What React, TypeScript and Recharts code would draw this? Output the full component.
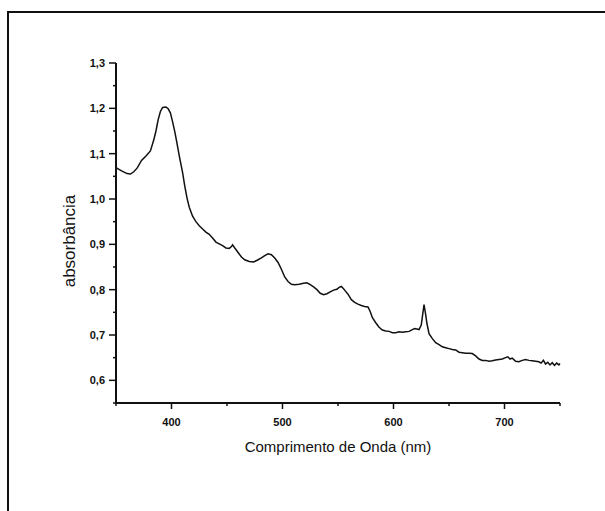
// Absorbance spectrum (UV-Vis)
import { LineChart, Line, XAxis, YAxis } from "recharts";

const wavelength = [
  350, 355, 360, 363, 366, 369, 373, 377, 381, 384, 386, 388, 390, 392, 395, 397, 399, 401, 403, 405,
  407, 410, 412, 414, 416, 419, 422, 425, 428, 431, 434, 437, 440, 443, 446, 449, 452, 454, 455, 457,
  460, 463, 466, 470, 474, 478, 481, 484, 487, 490, 493, 496, 499, 502, 505, 508, 511, 515, 519, 522,
  525, 528, 531, 534, 537, 540, 543, 546, 549, 551, 553, 555, 556, 559, 562, 565, 568, 571, 574, 577,
  579, 581, 584, 587, 590, 593, 596, 599, 602, 605, 608, 611, 614, 617, 619, 621, 623, 625, 626, 627.5,
  629, 630, 632, 635, 638, 641, 644, 647, 650, 653, 656, 659, 662, 665, 668, 671, 674, 677, 680, 683,
  686, 689, 692, 695, 698, 701, 703, 705, 707, 710, 713, 716, 719, 722, 725, 728, 731, 733, 735, 737,
  739, 741, 743, 745, 747, 749, 750,
];

const absorbance = [
  1.069, 1.062, 1.056, 1.055, 1.06, 1.068, 1.085, 1.095, 1.106, 1.13, 1.15, 1.175, 1.193, 1.202, 1.203, 1.199, 1.19, 1.17, 1.148, 1.122,
  1.095, 1.058, 1.028, 1.002, 0.982, 0.962, 0.95, 0.941, 0.934, 0.927, 0.922, 0.914, 0.905, 0.901, 0.897, 0.892, 0.891, 0.895, 0.899, 0.892,
  0.882, 0.872, 0.866, 0.862, 0.861, 0.866, 0.87, 0.875, 0.879, 0.877, 0.87, 0.86, 0.845, 0.828, 0.818, 0.812, 0.811, 0.812, 0.814, 0.815,
  0.811, 0.806, 0.8, 0.792, 0.789, 0.791, 0.795, 0.799, 0.801, 0.805, 0.807, 0.802, 0.799, 0.79, 0.778, 0.772, 0.768, 0.765, 0.763, 0.762,
  0.752, 0.738, 0.727, 0.717, 0.711, 0.709, 0.708, 0.705, 0.705, 0.707, 0.706, 0.707, 0.708, 0.712, 0.714, 0.713, 0.712, 0.722, 0.74, 0.767,
  0.745, 0.727, 0.703, 0.692, 0.683, 0.679, 0.674, 0.672, 0.67, 0.668, 0.667, 0.662, 0.661, 0.66, 0.66, 0.659, 0.654, 0.647, 0.644, 0.644,
  0.642, 0.643, 0.645, 0.646, 0.647, 0.65, 0.652, 0.647, 0.649, 0.642, 0.641, 0.644, 0.646, 0.644, 0.643, 0.642, 0.641, 0.638, 0.644, 0.636,
  0.64, 0.634, 0.639, 0.633, 0.638, 0.634, 0.637,
];

const xTicks = [350, 400, 450, 500, 550, 600, 650, 700, 750];
const xLabeled = [400, 500, 600, 700];
const yTicks = [0.55, 0.6, 0.65, 0.7, 0.75, 0.8, 0.85, 0.9, 0.95, 1.0, 1.05, 1.1, 1.15, 1.2, 1.25, 1.3];
const yLabeled = [0.6, 0.7, 0.8, 0.9, 1.0, 1.1, 1.2, 1.3];

const data = wavelength.map((w, i) => ({ w, a: absorbance[i] }));

const FONT = "'Liberation Sans', Arial, sans-serif";

const isIn = (list: number[], v: number) => list.some((t) => Math.abs(t - v) < 1e-6);

function YTick({ x, y, payload }: any) {
  const major = isIn(yLabeled, payload.value);
  return (
    <g>
      <line x1={x - (major ? 7 : 3)} y1={y} x2={x} y2={y} stroke="#111" strokeWidth={1.5} />
      {major && (
        <text x={x - 11} y={y} dy={4} textAnchor="end" fontSize={11} fontWeight="bold" fontFamily={FONT} fill="#111">
          {payload.value.toFixed(1).replace(".", ",")}
        </text>
      )}
    </g>
  );
}

function XTick({ x, y, payload }: any) {
  const major = isIn(xLabeled, payload.value);
  return (
    <g>
      <line x1={x} y1={y} x2={x} y2={y + (major ? 6 : 3)} stroke="#111" strokeWidth={1.5} />
      {major && (
        <text x={x} y={y + 23} textAnchor="middle" fontSize={11} fontWeight="bold" fontFamily={FONT} fill="#111">
          {payload.value}
        </text>
      )}
    </g>
  );
}

export default function App() {
  return (
    <div style={{ position: "absolute", left: 0, top: 0, width: 605, height: 511, overflow: "hidden", background: "#fff" }}>
      <div
        style={{
          position: "absolute",
          left: 7,
          top: 11,
          width: 620,
          height: 520,
          borderTop: "2px solid #111",
          borderLeft: "2px solid #111",
        }}
      />
      <LineChart
        width={605}
        height={511}
        data={data}
        margin={{ top: 63, right: 45, bottom: 20, left: 22 }}
        style={{ position: "absolute", left: 0, top: 0 }}
      >
        <XAxis
          dataKey="w"
          type="number"
          domain={[350, 750]}
          ticks={xTicks}
          interval={0}
          height={88}
          tickSize={0}
          tickMargin={0}
          tick={<XTick />}
          tickLine={false}
          axisLine={{ stroke: "#111", strokeWidth: 2 }}
          label={{ value: "Comprimento de Onda (nm)", position: "center", fontSize: 15, fontFamily: FONT, fill: "#111" }}
        />
        <YAxis
          type="number"
          domain={[0.55, 1.3]}
          ticks={yTicks}
          interval={0}
          width={94}
          tickSize={0}
          tickMargin={0}
          tick={<YTick />}
          tickLine={false}
          axisLine={{ stroke: "#111", strokeWidth: 2 }}
          label={{ value: "absorbância", angle: -90, position: "center", dy: 8, fontSize: 17, fontFamily: FONT, fill: "#111" }}
        />
        <Line
          dataKey="a"
          type="linear"
          stroke="#111"
          strokeWidth={1.5}
          dot={false}
          isAnimationActive={false}
        />
      </LineChart>
    </div>
  );
}
